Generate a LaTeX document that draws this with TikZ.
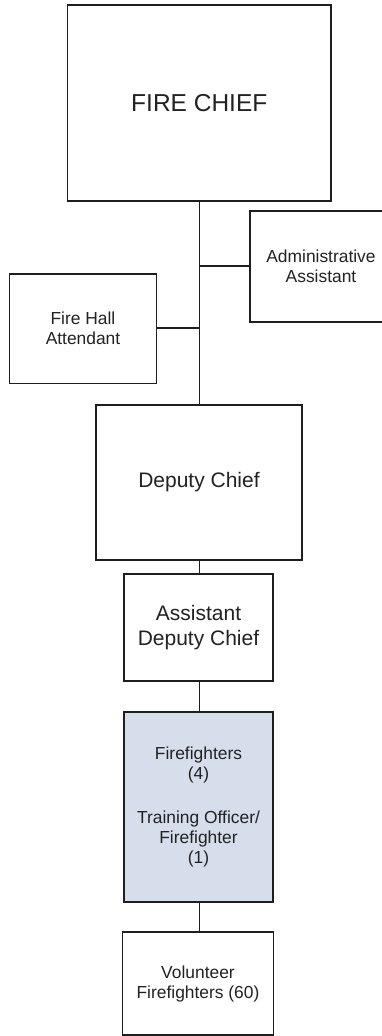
\documentclass[tikz,border=0pt]{standalone}
\usepackage{fontspec}
\setmainfont{Liberation Sans}
\definecolor{lineC}{HTML}{1E1E1E}
\definecolor{textC}{HTML}{222222}
\definecolor{ffblue}{HTML}{D5DEEA}
\begin{document}
\begin{tikzpicture}[x=1pt,y=-1pt,
  orgbox/.style={draw=lineC, line width=1.3pt, fill=white, inner sep=0pt, outer sep=0pt,
    align=center, text=textC},
  small/.style={font=\fontsize{17.4}{20}\selectfont},
  mid/.style={font=\fontsize{21}{25}\selectfont},
  big/.style={font=\fontsize{24.5}{29}\selectfont},
  link/.style={draw=lineC, line width=1.3pt}]
\useasboundingbox (0,0) rectangle (382,1036);
\clip (0,0) rectangle (382,1036);
\fill[white] (0,0) rectangle (382,1036);
% boxes
\node[orgbox, big, minimum width=263.5pt, minimum height=196pt] (chief) at (199.3,103) {FIRE CHIEF};
\node[orgbox, small, minimum width=142pt, minimum height=111pt] (admin) at (321,266.5) {Administrative\\Assistant};
\node[orgbox, small, minimum width=147.5pt, minimum height=109.3pt] (hall) at (83,328.7) {Fire Hall\\Attendant};
\node[orgbox, mid, minimum width=206pt, minimum height=155pt] (deputy) at (199,482.5) {Deputy Chief};
\node[orgbox, mid, minimum width=149pt, minimum height=107pt] (asst) at (198.5,627.5) {Assistant\\Deputy Chief};
\node[orgbox, small, fill=ffblue, minimum width=149pt, minimum height=190pt] (ff) at (198.5,807) {Firefighters\\(4)\\[24pt]Training Officer/\\Firefighter\\(1)};
\node[orgbox, small, minimum width=150.5pt, minimum height=103pt] (vol) at (198,983.5) {Volunteer\\Firefighters (60)};
% connectors
\coordinate (spineA) at (199.3,266);
\coordinate (spineH) at (199.3,328);
\draw[link] (chief.south) -- (chief.south |- deputy.north);
\draw[link] (admin.west |- spineA) -- (spineA);
\draw[link] (hall.east |- spineH) -- (spineH);
\draw[link] (chief.south |- deputy.south) -- (chief.south |- asst.north);
\draw[link] (chief.south |- asst.south) -- (chief.south |- ff.north);
\draw[link] (chief.south |- ff.south) -- (chief.south |- vol.north);
\end{tikzpicture}
\end{document}
